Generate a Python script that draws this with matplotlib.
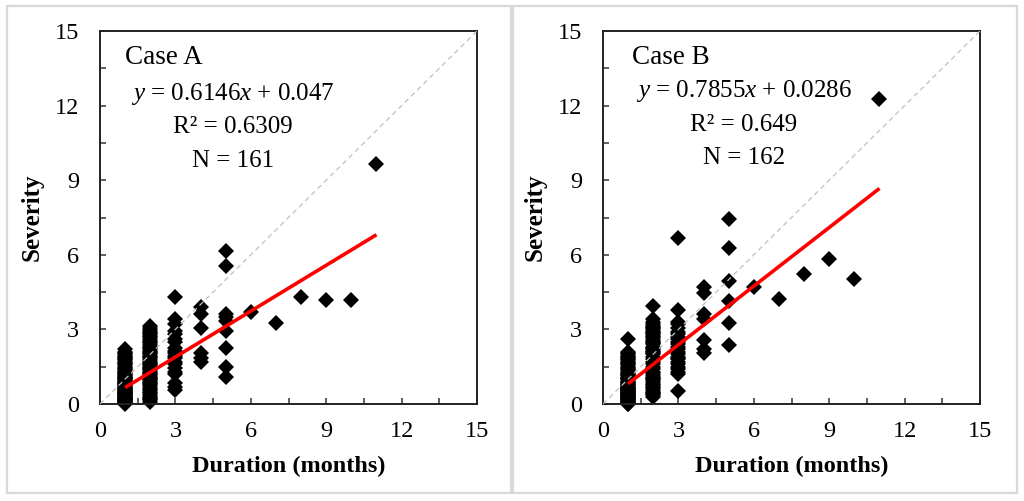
import numpy as np
import matplotlib
matplotlib.use("Agg")
import matplotlib.pyplot as plt
from matplotlib.patches import Rectangle
from matplotlib.ticker import MultipleLocator

plt.rcParams['font.family'] = ['Liberation Serif', 'DejaVu Serif']
plt.rcParams['mathtext.fontset'] = 'custom'
plt.rcParams['mathtext.rm'] = 'Liberation Serif'
plt.rcParams['mathtext.it'] = 'Liberation Serif:italic'

# ---------------- data (severity per duration in months) ----------------
months = [1, 2, 3, 4, 5, 6, 7, 8, 9, 10, 11]

A_m1 = [0.00, 0.03, 0.05, 0.08, 0.10, 0.12, 0.15, 0.17, 0.20, 0.22, 0.25, 0.28, 0.30,
        0.33, 0.35, 0.38, 0.40, 0.43, 0.45, 0.48, 0.50, 0.53, 0.55, 0.58, 0.60, 0.63,
        0.65, 0.70, 0.72, 0.75, 0.80, 0.83, 0.85, 0.90, 0.93, 0.95, 1.00, 1.03, 1.05,
        1.10, 1.13, 1.15, 1.20, 1.25, 1.28, 1.30, 1.35, 1.40, 1.45, 1.50, 1.55, 1.60,
        1.65, 1.70, 1.75, 1.80, 1.85, 1.90, 1.95, 2.00, 2.05, 2.10, 2.20, 0.15, 0.25]
A_m2 = [0.10, 0.15, 0.20, 0.25, 0.30, 0.38, 0.45, 0.50, 0.55, 0.60, 0.68, 0.75, 0.80,
        0.85, 0.90, 0.97, 1.00, 1.05, 1.10, 1.15, 1.20, 1.25, 1.30, 1.35, 1.40, 1.45,
        1.50, 1.55, 1.60, 1.65, 1.70, 1.78, 1.85, 1.90, 1.95, 2.00, 2.05, 2.10, 2.15,
        2.20, 2.25, 2.30, 2.38, 2.45, 2.50, 2.55, 2.60, 2.68, 2.75, 2.80, 2.85, 2.90,
        2.97, 3.05, 3.15]
A_m3 = [0.55, 0.70, 0.85, 1.20, 1.30, 1.45, 1.60, 1.70, 1.85, 1.95, 2.05, 2.15, 2.25,
        2.50, 2.60, 2.80, 2.95, 3.20, 3.40, 4.30]
A_m4 = [1.70, 1.85, 2.05, 3.05, 3.60, 3.90]
A_m5 = [1.10, 1.50, 2.25, 2.95, 3.35, 3.50, 3.60, 5.55, 6.15]
A_m6 = [3.70]
A_m7 = [3.25]
A_m8 = [4.30]
A_m9 = [4.20]
A_m10 = [4.20]
A_m11 = [9.65]

B_m1 = [0.00, 0.02, 0.05, 0.07, 0.10, 0.12, 0.15, 0.18, 0.20, 0.22, 0.25, 0.28, 0.30,
        0.33, 0.35, 0.38, 0.40, 0.43, 0.45, 0.48, 0.50, 0.53, 0.55, 0.58, 0.60, 0.63,
        0.65, 0.68, 0.70, 0.75, 0.78, 0.80, 0.85, 0.88, 0.90, 0.95, 1.00, 1.03, 1.05,
        1.10, 1.15, 1.18, 1.20, 1.25, 1.30, 1.35, 1.40, 1.45, 1.50, 1.55, 1.60, 1.65,
        1.70, 1.75, 1.80, 1.85, 1.90, 1.95, 2.00, 2.05, 2.10, 0.10, 0.20, 0.30, 0.40,
        0.50, 0.60, 2.62]
B_m2 = [0.30, 0.35, 0.40, 0.45, 0.50, 0.58, 0.65, 0.70, 0.75, 0.82, 0.90, 0.95, 1.00,
        1.05, 1.10, 1.18, 1.25, 1.30, 1.40, 1.50, 1.60, 1.70, 1.80, 1.90, 2.00, 2.05,
        2.10, 2.15, 2.20, 2.25, 2.30, 2.40, 2.45, 2.50, 2.55, 2.60, 2.70, 2.75, 2.80,
        2.85, 2.90, 2.95, 3.00, 3.05, 3.10, 3.15, 3.20, 3.30, 3.40, 3.96]
B_m3 = [0.51, 1.20, 1.30, 1.40, 1.50, 1.60, 1.70, 1.80, 1.85, 1.90, 2.00, 2.10, 2.20,
        2.30, 2.40, 2.50, 2.60, 2.70, 2.80, 2.90, 3.05, 3.20, 3.30, 3.80, 6.69]
B_m4 = [2.06, 2.23, 2.59, 3.40, 3.60, 4.48, 4.72]
B_m5 = [2.37, 3.27, 4.14, 4.95, 6.26, 7.43]
B_m6 = [4.72]
B_m7 = [4.21]
B_m8 = [5.22]
B_m9 = [5.82]
B_m10 = [5.01]
B_m11 = [12.27]

case_names = ["Case A", "Case B"]
slopes = [0.6146, 0.7855]
intercepts = [0.047, 0.0286]
eq_labels = ["$y$ = 0.6146$x$ + 0.047", "$y$ = 0.7855$x$ + 0.0286"]
r2_labels = ["R\u00b2 = 0.6309", "R\u00b2 = 0.649"]
n_labels = ["N = 161", "N = 162"]
tick_values = [0, 3, 6, 9, 12, 15]

groups_A = [A_m1, A_m2, A_m3, A_m4, A_m5, A_m6, A_m7, A_m8, A_m9, A_m10, A_m11]
groups_B = [B_m1, B_m2, B_m3, B_m4, B_m5, B_m6, B_m7, B_m8, B_m9, B_m10, B_m11]


def flatten(groups):
    xs, ys = [], []
    for m, g in zip(months, groups):
        xs.extend([m] * len(g))
        ys.extend(g)
    return np.array(xs, float), np.array(ys, float)


fig = plt.figure(figsize=(10.24, 5.01), dpi=100)

# panel frames
for x0, w in [(7 / 1024, 504 / 1024), (513 / 1024, 504 / 1024)]:
    fig.patches.append(Rectangle((x0, 8 / 501), w, 487 / 501, transform=fig.transFigure,
                                 fill=False, edgecolor='#d9d9d9', linewidth=1.6))

axes_pos = [[100 / 1024, 97 / 501, 377 / 1024, 373 / 501],
            [603 / 1024, 97 / 501, 377 / 1024, 373 / 501]]
text_x = [[1.0, 5.3], [1.15, 5.6]]
text_y = [[13.92, 12.48, 11.13, 9.78], [13.95, 12.6, 11.21, 9.9]]

for i, groups in enumerate([groups_A, groups_B]):
    ax = fig.add_axes(axes_pos[i])
    x, y = flatten(groups)
    ax.plot(x, y, linestyle='none', marker='D', markersize=8.6, color='black',
            markeredgewidth=0, clip_on=False, zorder=2)
    ax.plot(tick_values[::5], tick_values[::5], linestyle=(0, (4, 3)), color='#c0c0c0',
            linewidth=0.9, zorder=3)
    xl = np.array([x.min(), x.max()])
    ax.plot(xl, slopes[i] * xl + intercepts[i], color='#ff0000', linewidth=2.6,
            solid_capstyle='butt', zorder=4)

    ax.set_xlim(0, 15)
    ax.set_ylim(0, 15)
    ax.set_xticks(tick_values)
    ax.set_yticks(tick_values)
    ax.xaxis.set_minor_locator(MultipleLocator(1.5))
    ax.yaxis.set_minor_locator(MultipleLocator(1.5))
    ax.tick_params(which='both', direction='in', length=4, width=1.1, color='#333333',
                   labelsize=17.5, pad=0)
    ax.tick_params(axis='y', which='major', pad=15)
    ax.tick_params(axis='x', which='major', pad=12)
    for s in ax.spines.values():
        s.set_linewidth(1.4)
        s.set_color('#222222')

    ax.set_xlabel("Duration (months)", fontsize=17.5, fontweight='bold', labelpad=10)
    ax.set_ylabel("Severity", fontsize=18, fontweight='bold', labelpad=8)

    ty = text_y[i]
    ax.text(text_x[i][0], ty[0], case_names[i], fontsize=19.5, ha='left', va='center')
    ax.text(text_x[i][1], ty[1], eq_labels[i], fontsize=18, ha='center', va='center')
    ax.text(text_x[i][1], ty[2], r2_labels[i], fontsize=18, ha='center', va='center')
    ax.text(text_x[i][1], ty[3], n_labels[i], fontsize=18, ha='center', va='center')

fig.savefig("out.png", dpi=100, facecolor='white')
